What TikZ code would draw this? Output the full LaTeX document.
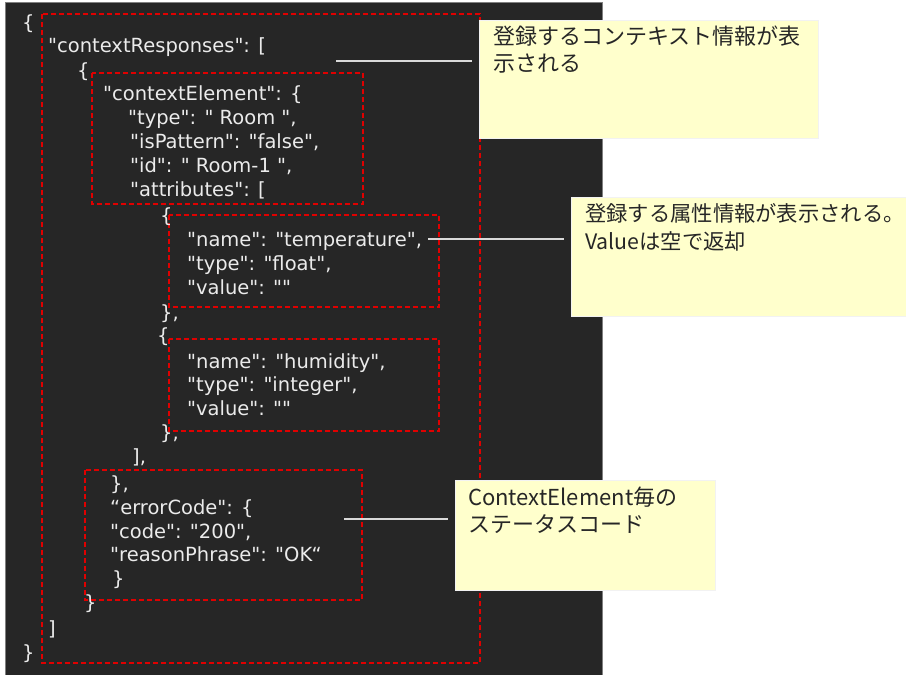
\documentclass[tikz,border=0pt]{standalone}
\usepackage{fontspec}
\setmainfont{DejaVu Sans}[Ligatures=TeXOff]
\newfontfamily\jpfont{Noto Sans CJK JP}[Ligatures=TeXOff]
\usepackage{tikz}

\definecolor{panel}{HTML}{262626}
\definecolor{memoyellow}{HTML}{FFFFCC}
\definecolor{boxred}{HTML}{E00000}
\definecolor{leadgray}{HTML}{D9D9D9}

\begin{document}
\begin{tikzpicture}[x=1pt,y=-1pt,
	code/.style={anchor=base west, inner sep=0pt, text=white!92!black, font=\fontsize{19.5}{23}\selectfont},
	group/.style={draw=boxred, line width=1.5pt, dash pattern=on 5pt off 3pt},
	memo/.style={fill=memoyellow, draw=white!95!black, line width=0.8pt, anchor=north west, inner sep=0pt},
	memotext/.style={anchor=north west, inner sep=0pt, align=left, text=black!85, font=\jpfont\fontsize{22}{27}\selectfont},
	leader/.style={draw=leadgray, line width=1.5pt, shorten >=7pt}]
	\useasboundingbox (0,0) rectangle (906,675);
	\fill [panel, draw=gray] (5.5,2.5) rectangle (602,678);

	% dashed groups
	\draw [group] (42,14) rectangle (480,663);
	\draw [group] (92,73) rectangle (363,204);
	\draw [group] (169,215) rectangle (439,307);
	\draw [group] (169,339) rectangle (439,431);
	\draw [group] (85,470) rectangle (362,600);

	% json text
	\node [code] (open) at (22,29) {\{};
	\node [code] (resp) at (48,52) {"contextResponses": [};
	\node [code] (respopen) at (77,77) {\{};
	\node [code] (elem) at (103,100) {"contextElement": \{};
	\node [code] (type) at (128,124) {"type": " Room ",};
	\node [code] (pattern) at (130,148) {"isPattern": "false",};
	\node [code] (id) at (130,172) {"id": " Room-1 ",};
	\node [code] (attrs) at (130,196) {"attributes": [};
	\node [code] (tempopen) at (160,222) {\{};
	\node [code] (tempname) at (187,246) {"name": "temperature",};
	\node [code] (temptype) at (187,270) {"type": "float",};
	\node [code] (tempvalue) at (187,294) {"value": ""};
	\node [code] (tempclose) at (160,319) {\},};
	\node [code] (humopen) at (157,342) {\{};
	\node [code] (humname) at (187,368) {"name": "humidity",};
	\node [code] (humtype) at (187,391) {"type": "integer",};
	\node [code] (humvalue) at (187,415) {"value": ""};
	\node [code] (humclose) at (160,439) {\},};
	\node [code] (attrsclose) at (132,463) {],};
	\node [code] (elemclose) at (110,490) {\},};
	\node [code] (err) at (110,514) {“errorCode": \{};
	\node [code] (errcode) at (110,538) {"code": "200",};
	\node [code] (reason) at (110,561) {"reasonPhrase": "OK“};
	\node [code] (errclose) at (112,585) {\}};
	\node [code] (respclose) at (84,609) {\}};
	\node [code] (listclose) at (48,635) {]};
	\node [code] (close) at (22,659) {\}};

	% memos
	\coordinate (c1) at (336,61);
	\coordinate (c2) at (428,239);
	\coordinate (c3) at (344,519);
	\node [memo, minimum width=339, minimum height=118] (n1) at (479,20) {};
	\node [memo, minimum width=337, minimum height=119] (n2) at (571,197) {};
	\node [memo, minimum width=260, minimum height=110] (n3) at (455,480) {};
	\draw [leader] (c1) -- (c1 -| n1.west);
	\draw [leader] (c2) -- (c2 -| n2.west);
	\draw [leader] (c3) -- (c3 -| n3.west);
	\node [memotext] (t1) at (493,26) {登録するコンテキスト情報が表\\示される};
	\node [memotext, font=\jpfont\fontsize{21.3}{28}\selectfont] (t2) at (585,203) {登録する属性情報が表示される。\\Valueは空で返却};
	\node [memotext] (t3) at (468,487) {ContextElement毎の\\ステータスコード};
\end{tikzpicture}
\end{document}
